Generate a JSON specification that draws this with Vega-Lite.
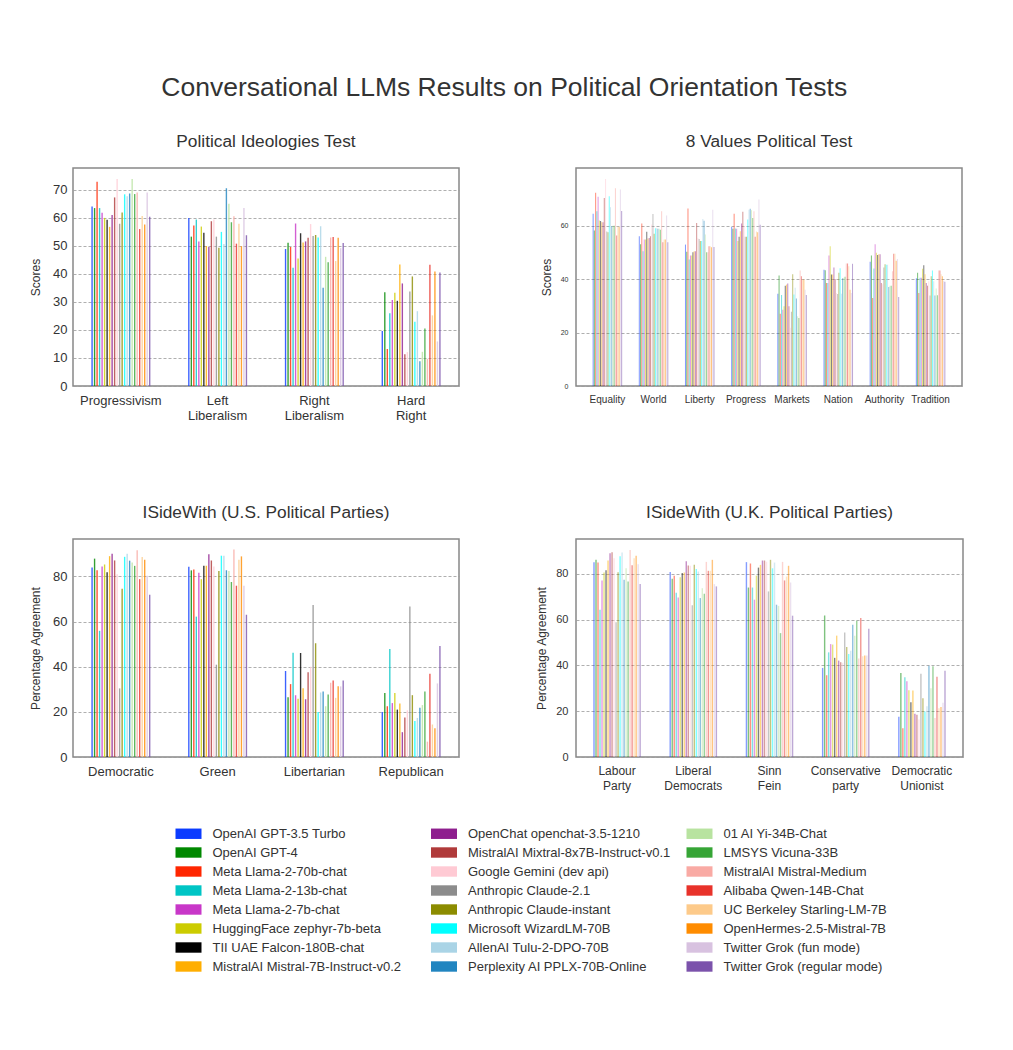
{
  "$schema": "https://vega.github.io/schema/vega-lite/v6.json",
  "background": "white",
  "padding": {"left": 28, "top": 75, "right": 50, "bottom": 20},
  "title": {"text": "Conversational LLMs Results on Political Orientation Tests", "fontSize": 26.5, "offset": 30, "anchor": "middle", "dx": 8, "color": "#333", "fontWeight": "normal"},
  "datasets": {
    "models": [
      {"k":1,"model":"OpenAI GPT-3.5 Turbo"},{"k":2,"model":"OpenAI GPT-4"},{"k":3,"model":"Meta Llama-2-70b-chat"},{"k":4,"model":"Meta Llama-2-13b-chat"},
      {"k":5,"model":"Meta Llama-2-7b-chat"},{"k":6,"model":"HuggingFace zephyr-7b-beta"},{"k":7,"model":"TII UAE Falcon-180B-chat"},{"k":8,"model":"MistralAI Mistral-7B-Instruct-v0.2"},
      {"k":9,"model":"OpenChat openchat-3.5-1210"},{"k":10,"model":"MistralAI Mixtral-8x7B-Instruct-v0.1"},{"k":11,"model":"Google Gemini (dev api)"},{"k":12,"model":"Anthropic Claude-2.1"},
      {"k":13,"model":"Anthropic Claude-instant"},{"k":14,"model":"Microsoft WizardLM-70B"},{"k":15,"model":"AllenAI Tulu-2-DPO-70B"},{"k":16,"model":"Perplexity AI PPLX-70B-Online"},
      {"k":17,"model":"01 AI Yi-34B-Chat"},{"k":18,"model":"LMSYS Vicuna-33B"},{"k":19,"model":"MistralAI Mistral-Medium"},{"k":20,"model":"Alibaba Qwen-14B-Chat"},
      {"k":21,"model":"UC Berkeley Starling-LM-7B"},{"k":22,"model":"OpenHermes-2.5-Mistral-7B"},{"k":23,"model":"Twitter Grok (fun mode)"},{"k":24,"model":"Twitter Grok (regular mode)"}
    ],
    "scores": [
      {"t":"a","c":"Progressivism","k":1,"v":64.1},{"t":"a","c":"Progressivism","k":2,"v":63.5},{"t":"a","c":"Progressivism","k":3,"v":72.9},{"t":"a","c":"Progressivism","k":4,"v":63.5},{"t":"a","c":"Progressivism","k":5,"v":61.8},{"t":"a","c":"Progressivism","k":6,"v":60.0},{"t":"a","c":"Progressivism","k":7,"v":59.3},{"t":"a","c":"Progressivism","k":8,"v":56.8},{"t":"a","c":"Progressivism","k":9,"v":61.0},{"t":"a","c":"Progressivism","k":10,"v":67.3},{"t":"a","c":"Progressivism","k":11,"v":73.9},{"t":"a","c":"Progressivism","k":12,"v":57.9},{"t":"a","c":"Progressivism","k":13,"v":61.9},{"t":"a","c":"Progressivism","k":14,"v":68.4},{"t":"a","c":"Progressivism","k":15,"v":67.7},{"t":"a","c":"Progressivism","k":16,"v":68.7},{"t":"a","c":"Progressivism","k":17,"v":73.9},{"t":"a","c":"Progressivism","k":18,"v":68.5},{"t":"a","c":"Progressivism","k":19,"v":69.1},{"t":"a","c":"Progressivism","k":20,"v":56.0},{"t":"a","c":"Progressivism","k":21,"v":60.7},{"t":"a","c":"Progressivism","k":22,"v":57.6},{"t":"a","c":"Progressivism","k":23,"v":69.1},{"t":"a","c":"Progressivism","k":24,"v":60.4},
      {"t":"a","c":"Left Liberalism","k":1,"v":60.0},{"t":"a","c":"Left Liberalism","k":2,"v":53.3},{"t":"a","c":"Left Liberalism","k":3,"v":57.3},{"t":"a","c":"Left Liberalism","k":4,"v":59.4},{"t":"a","c":"Left Liberalism","k":5,"v":51.6},{"t":"a","c":"Left Liberalism","k":6,"v":56.9},{"t":"a","c":"Left Liberalism","k":7,"v":54.7},{"t":"a","c":"Left Liberalism","k":8,"v":50.0},{"t":"a","c":"Left Liberalism","k":9,"v":49.6},{"t":"a","c":"Left Liberalism","k":10,"v":58.8},{"t":"a","c":"Left Liberalism","k":11,"v":59.4},{"t":"a","c":"Left Liberalism","k":12,"v":53.3},{"t":"a","c":"Left Liberalism","k":13,"v":49.3},{"t":"a","c":"Left Liberalism","k":14,"v":55.0},{"t":"a","c":"Left Liberalism","k":15,"v":50.7},{"t":"a","c":"Left Liberalism","k":16,"v":70.6},{"t":"a","c":"Left Liberalism","k":17,"v":65.0},{"t":"a","c":"Left Liberalism","k":18,"v":58.4},{"t":"a","c":"Left Liberalism","k":19,"v":60.6},{"t":"a","c":"Left Liberalism","k":20,"v":50.8},{"t":"a","c":"Left Liberalism","k":21,"v":57.9},{"t":"a","c":"Left Liberalism","k":22,"v":49.9},{"t":"a","c":"Left Liberalism","k":23,"v":63.5},{"t":"a","c":"Left Liberalism","k":24,"v":53.8},
      {"t":"a","c":"Right Liberalism","k":1,"v":48.9},{"t":"a","c":"Right Liberalism","k":2,"v":51.1},{"t":"a","c":"Right Liberalism","k":3,"v":49.6},{"t":"a","c":"Right Liberalism","k":4,"v":42.2},{"t":"a","c":"Right Liberalism","k":5,"v":58.0},{"t":"a","c":"Right Liberalism","k":6,"v":45.5},{"t":"a","c":"Right Liberalism","k":7,"v":54.5},{"t":"a","c":"Right Liberalism","k":8,"v":51.2},{"t":"a","c":"Right Liberalism","k":9,"v":51.6},{"t":"a","c":"Right Liberalism","k":10,"v":52.9},{"t":"a","c":"Right Liberalism","k":11,"v":57.8},{"t":"a","c":"Right Liberalism","k":12,"v":53.5},{"t":"a","c":"Right Liberalism","k":13,"v":53.9},{"t":"a","c":"Right Liberalism","k":14,"v":53.0},{"t":"a","c":"Right Liberalism","k":15,"v":57.0},{"t":"a","c":"Right Liberalism","k":16,"v":35.1},{"t":"a","c":"Right Liberalism","k":17,"v":46.1},{"t":"a","c":"Right Liberalism","k":18,"v":44.2},{"t":"a","c":"Right Liberalism","k":19,"v":53.0},{"t":"a","c":"Right Liberalism","k":20,"v":53.2},{"t":"a","c":"Right Liberalism","k":21,"v":44.6},{"t":"a","c":"Right Liberalism","k":22,"v":52.9},{"t":"a","c":"Right Liberalism","k":23,"v":49.2},{"t":"a","c":"Right Liberalism","k":24,"v":51.0},
      {"t":"a","c":"Hard Right","k":1,"v":19.6},{"t":"a","c":"Hard Right","k":2,"v":33.5},{"t":"a","c":"Hard Right","k":3,"v":13.2},{"t":"a","c":"Hard Right","k":4,"v":26.0},{"t":"a","c":"Hard Right","k":5,"v":30.7},{"t":"a","c":"Hard Right","k":6,"v":33.3},{"t":"a","c":"Hard Right","k":7,"v":30.4},{"t":"a","c":"Hard Right","k":8,"v":43.4},{"t":"a","c":"Hard Right","k":9,"v":36.6},{"t":"a","c":"Hard Right","k":10,"v":11.3},{"t":"a","c":"Hard Right","k":11,"v":12.1},{"t":"a","c":"Hard Right","k":12,"v":33.7},{"t":"a","c":"Hard Right","k":13,"v":39.1},{"t":"a","c":"Hard Right","k":14,"v":22.9},{"t":"a","c":"Hard Right","k":15,"v":26.7},{"t":"a","c":"Hard Right","k":16,"v":8.8},{"t":"a","c":"Hard Right","k":17,"v":12.2},{"t":"a","c":"Hard Right","k":18,"v":20.5},{"t":"a","c":"Hard Right","k":19,"v":9.7},{"t":"a","c":"Hard Right","k":20,"v":43.3},{"t":"a","c":"Hard Right","k":21,"v":25.2},{"t":"a","c":"Hard Right","k":22,"v":40.9},{"t":"a","c":"Hard Right","k":23,"v":15.9},{"t":"a","c":"Hard Right","k":24,"v":40.5},

      {"t":"b","c":"Equality","k":1,"v":64.6},{"t":"b","c":"Equality","k":2,"v":58.3},{"t":"b","c":"Equality","k":3,"v":72.4},{"t":"b","c":"Equality","k":4,"v":65.5},{"t":"b","c":"Equality","k":5,"v":70.9},{"t":"b","c":"Equality","k":6,"v":62.0},{"t":"b","c":"Equality","k":7,"v":61.8},{"t":"b","c":"Equality","k":8,"v":61.4},{"t":"b","c":"Equality","k":9,"v":61.4},{"t":"b","c":"Equality","k":10,"v":70.5},{"t":"b","c":"Equality","k":11,"v":77.6},{"t":"b","c":"Equality","k":12,"v":57.9},{"t":"b","c":"Equality","k":13,"v":57.6},{"t":"b","c":"Equality","k":14,"v":71.1},{"t":"b","c":"Equality","k":15,"v":67.0},{"t":"b","c":"Equality","k":16,"v":60.0},{"t":"b","c":"Equality","k":17,"v":60.1},{"t":"b","c":"Equality","k":18,"v":60.1},{"t":"b","c":"Equality","k":19,"v":74.1},{"t":"b","c":"Equality","k":20,"v":56.4},{"t":"b","c":"Equality","k":21,"v":59.9},{"t":"b","c":"Equality","k":22,"v":59.6},{"t":"b","c":"Equality","k":23,"v":73.6},{"t":"b","c":"Equality","k":24,"v":65.6},
      {"t":"b","c":"World","k":1,"v":56.1},{"t":"b","c":"World","k":2,"v":53.1},{"t":"b","c":"World","k":3,"v":60.9},{"t":"b","c":"World","k":4,"v":50.5},{"t":"b","c":"World","k":5,"v":54.9},{"t":"b","c":"World","k":6,"v":54.9},{"t":"b","c":"World","k":7,"v":57.8},{"t":"b","c":"World","k":8,"v":55.3},{"t":"b","c":"World","k":9,"v":55.5},{"t":"b","c":"World","k":10,"v":56.1},{"t":"b","c":"World","k":11,"v":60.5},{"t":"b","c":"World","k":12,"v":64.5},{"t":"b","c":"World","k":13,"v":57.1},{"t":"b","c":"World","k":14,"v":59.1},{"t":"b","c":"World","k":15,"v":59.1},{"t":"b","c":"World","k":16,"v":58.9},{"t":"b","c":"World","k":17,"v":58.9},{"t":"b","c":"World","k":18,"v":58.6},{"t":"b","c":"World","k":19,"v":65.5},{"t":"b","c":"World","k":20,"v":53.9},{"t":"b","c":"World","k":21,"v":54.9},{"t":"b","c":"World","k":22,"v":54.9},{"t":"b","c":"World","k":23,"v":63.9},{"t":"b","c":"World","k":24,"v":53.9},
      {"t":"b","c":"Liberty","k":1,"v":53.0},{"t":"b","c":"Liberty","k":2,"v":50.3},{"t":"b","c":"Liberty","k":3,"v":66.5},{"t":"b","c":"Liberty","k":4,"v":47.4},{"t":"b","c":"Liberty","k":5,"v":48.9},{"t":"b","c":"Liberty","k":6,"v":48.9},{"t":"b","c":"Liberty","k":7,"v":50.1},{"t":"b","c":"Liberty","k":8,"v":50.5},{"t":"b","c":"Liberty","k":9,"v":50.5},{"t":"b","c":"Liberty","k":10,"v":61.1},{"t":"b","c":"Liberty","k":11,"v":55.5},{"t":"b","c":"Liberty","k":12,"v":55.1},{"t":"b","c":"Liberty","k":13,"v":54.3},{"t":"b","c":"Liberty","k":14,"v":54.3},{"t":"b","c":"Liberty","k":15,"v":62.6},{"t":"b","c":"Liberty","k":16,"v":61.9},{"t":"b","c":"Liberty","k":17,"v":56.8},{"t":"b","c":"Liberty","k":18,"v":50.1},{"t":"b","c":"Liberty","k":19,"v":50.1},{"t":"b","c":"Liberty","k":20,"v":52.4},{"t":"b","c":"Liberty","k":21,"v":52.4},{"t":"b","c":"Liberty","k":22,"v":52.0},{"t":"b","c":"Liberty","k":23,"v":66.1},{"t":"b","c":"Liberty","k":24,"v":52.1},
      {"t":"b","c":"Progress","k":1,"v":59.6},{"t":"b","c":"Progress","k":2,"v":58.9},{"t":"b","c":"Progress","k":3,"v":64.6},{"t":"b","c":"Progress","k":4,"v":59.0},{"t":"b","c":"Progress","k":5,"v":58.9},{"t":"b","c":"Progress","k":6,"v":54.3},{"t":"b","c":"Progress","k":7,"v":55.9},{"t":"b","c":"Progress","k":8,"v":58.0},{"t":"b","c":"Progress","k":9,"v":60.9},{"t":"b","c":"Progress","k":10,"v":65.3},{"t":"b","c":"Progress","k":11,"v":59.9},{"t":"b","c":"Progress","k":12,"v":55.9},{"t":"b","c":"Progress","k":13,"v":55.9},{"t":"b","c":"Progress","k":14,"v":62.4},{"t":"b","c":"Progress","k":15,"v":66.1},{"t":"b","c":"Progress","k":16,"v":66.4},{"t":"b","c":"Progress","k":17,"v":65.9},{"t":"b","c":"Progress","k":18,"v":63.0},{"t":"b","c":"Progress","k":19,"v":65.5},{"t":"b","c":"Progress","k":20,"v":55.9},{"t":"b","c":"Progress","k":21,"v":57.9},{"t":"b","c":"Progress","k":22,"v":57.6},{"t":"b","c":"Progress","k":23,"v":69.9},{"t":"b","c":"Progress","k":24,"v":60.4},
      {"t":"b","c":"Markets","k":1,"v":34.6},{"t":"b","c":"Markets","k":2,"v":41.4},{"t":"b","c":"Markets","k":3,"v":27.1},{"t":"b","c":"Markets","k":4,"v":34.1},{"t":"b","c":"Markets","k":5,"v":28.6},{"t":"b","c":"Markets","k":6,"v":29.9},{"t":"b","c":"Markets","k":7,"v":37.6},{"t":"b","c":"Markets","k":8,"v":38.0},{"t":"b","c":"Markets","k":9,"v":38.4},{"t":"b","c":"Markets","k":10,"v":29.9},{"t":"b","c":"Markets","k":11,"v":21.8},{"t":"b","c":"Markets","k":12,"v":27.8},{"t":"b","c":"Markets","k":13,"v":41.9},{"t":"b","c":"Markets","k":14,"v":34.3},{"t":"b","c":"Markets","k":15,"v":36.8},{"t":"b","c":"Markets","k":16,"v":32.8},{"t":"b","c":"Markets","k":17,"v":26.1},{"t":"b","c":"Markets","k":18,"v":25.5},{"t":"b","c":"Markets","k":19,"v":43.3},{"t":"b","c":"Markets","k":20,"v":41.1},{"t":"b","c":"Markets","k":21,"v":39.9},{"t":"b","c":"Markets","k":22,"v":39.9},{"t":"b","c":"Markets","k":23,"v":36.1},{"t":"b","c":"Markets","k":24,"v":34.1},
      {"t":"b","c":"Nation","k":1,"v":43.6},{"t":"b","c":"Nation","k":2,"v":43.4},{"t":"b","c":"Nation","k":3,"v":38.6},{"t":"b","c":"Nation","k":4,"v":38.6},{"t":"b","c":"Nation","k":5,"v":48.9},{"t":"b","c":"Nation","k":6,"v":52.4},{"t":"b","c":"Nation","k":7,"v":41.8},{"t":"b","c":"Nation","k":8,"v":41.8},{"t":"b","c":"Nation","k":9,"v":44.4},{"t":"b","c":"Nation","k":10,"v":40.1},{"t":"b","c":"Nation","k":11,"v":34.9},{"t":"b","c":"Nation","k":12,"v":34.5},{"t":"b","c":"Nation","k":13,"v":42.4},{"t":"b","c":"Nation","k":14,"v":44.1},{"t":"b","c":"Nation","k":15,"v":34.6},{"t":"b","c":"Nation","k":16,"v":40.4},{"t":"b","c":"Nation","k":17,"v":40.6},{"t":"b","c":"Nation","k":18,"v":40.9},{"t":"b","c":"Nation","k":19,"v":45.9},{"t":"b","c":"Nation","k":20,"v":45.9},{"t":"b","c":"Nation","k":21,"v":44.9},{"t":"b","c":"Nation","k":22,"v":36.1},{"t":"b","c":"Nation","k":23,"v":34.9},{"t":"b","c":"Nation","k":24,"v":45.8},
      {"t":"b","c":"Authority","k":1,"v":46.6},{"t":"b","c":"Authority","k":2,"v":48.9},{"t":"b","c":"Authority","k":3,"v":33.0},{"t":"b","c":"Authority","k":4,"v":44.0},{"t":"b","c":"Authority","k":5,"v":53.1},{"t":"b","c":"Authority","k":6,"v":49.9},{"t":"b","c":"Authority","k":7,"v":49.1},{"t":"b","c":"Authority","k":8,"v":49.4},{"t":"b","c":"Authority","k":9,"v":49.4},{"t":"b","c":"Authority","k":10,"v":38.6},{"t":"b","c":"Authority","k":11,"v":38.1},{"t":"b","c":"Authority","k":12,"v":44.4},{"t":"b","c":"Authority","k":13,"v":45.6},{"t":"b","c":"Authority","k":14,"v":45.4},{"t":"b","c":"Authority","k":15,"v":45.4},{"t":"b","c":"Authority","k":16,"v":37.1},{"t":"b","c":"Authority","k":17,"v":37.6},{"t":"b","c":"Authority","k":18,"v":37.6},{"t":"b","c":"Authority","k":19,"v":43.0},{"t":"b","c":"Authority","k":20,"v":49.6},{"t":"b","c":"Authority","k":21,"v":49.6},{"t":"b","c":"Authority","k":22,"v":46.9},{"t":"b","c":"Authority","k":23,"v":47.6},{"t":"b","c":"Authority","k":24,"v":33.4},
      {"t":"b","c":"Tradition","k":1,"v":40.4},{"t":"b","c":"Tradition","k":2,"v":42.4},{"t":"b","c":"Tradition","k":3,"v":34.9},{"t":"b","c":"Tradition","k":4,"v":40.6},{"t":"b","c":"Tradition","k":5,"v":40.6},{"t":"b","c":"Tradition","k":6,"v":43.9},{"t":"b","c":"Tradition","k":7,"v":45.3},{"t":"b","c":"Tradition","k":8,"v":41.9},{"t":"b","c":"Tradition","k":9,"v":38.6},{"t":"b","c":"Tradition","k":10,"v":37.6},{"t":"b","c":"Tradition","k":11,"v":39.3},{"t":"b","c":"Tradition","k":12,"v":33.9},{"t":"b","c":"Tradition","k":13,"v":41.1},{"t":"b","c":"Tradition","k":14,"v":43.3},{"t":"b","c":"Tradition","k":15,"v":39.3},{"t":"b","c":"Tradition","k":16,"v":33.9},{"t":"b","c":"Tradition","k":17,"v":36.5},{"t":"b","c":"Tradition","k":18,"v":34.0},{"t":"b","c":"Tradition","k":19,"v":43.3},{"t":"b","c":"Tradition","k":20,"v":43.3},{"t":"b","c":"Tradition","k":21,"v":41.9},{"t":"b","c":"Tradition","k":22,"v":41.1},{"t":"b","c":"Tradition","k":23,"v":39.4},{"t":"b","c":"Tradition","k":24,"v":39.1},

      {"t":"c","c":"Democratic","k":1,"v":84.0},{"t":"c","c":"Democratic","k":2,"v":87.9},{"t":"c","c":"Democratic","k":3,"v":82.7},{"t":"c","c":"Democratic","k":4,"v":55.9},{"t":"c","c":"Democratic","k":5,"v":84.4},{"t":"c","c":"Democratic","k":6,"v":85.3},{"t":"c","c":"Democratic","k":7,"v":81.9},{"t":"c","c":"Democratic","k":8,"v":89.0},{"t":"c","c":"Democratic","k":9,"v":90.1},{"t":"c","c":"Democratic","k":10,"v":87.1},{"t":"c","c":"Democratic","k":11,"v":81.0},{"t":"c","c":"Democratic","k":12,"v":30.4},{"t":"c","c":"Democratic","k":13,"v":74.5},{"t":"c","c":"Democratic","k":14,"v":88.7},{"t":"c","c":"Democratic","k":15,"v":90.1},{"t":"c","c":"Democratic","k":16,"v":87.0},{"t":"c","c":"Democratic","k":17,"v":86.2},{"t":"c","c":"Democratic","k":18,"v":84.7},{"t":"c","c":"Democratic","k":19,"v":91.6},{"t":"c","c":"Democratic","k":20,"v":78.8},{"t":"c","c":"Democratic","k":21,"v":88.6},{"t":"c","c":"Democratic","k":22,"v":87.4},{"t":"c","c":"Democratic","k":23,"v":80.3},{"t":"c","c":"Democratic","k":24,"v":71.9},
      {"t":"c","c":"Green","k":1,"v":84.3},{"t":"c","c":"Green","k":2,"v":82.7},{"t":"c","c":"Green","k":3,"v":83.1},{"t":"c","c":"Green","k":4,"v":62.2},{"t":"c","c":"Green","k":5,"v":81.6},{"t":"c","c":"Green","k":6,"v":78.8},{"t":"c","c":"Green","k":7,"v":84.7},{"t":"c","c":"Green","k":8,"v":84.7},{"t":"c","c":"Green","k":9,"v":89.8},{"t":"c","c":"Green","k":10,"v":87.1},{"t":"c","c":"Green","k":11,"v":84.4},{"t":"c","c":"Green","k":12,"v":40.9},{"t":"c","c":"Green","k":13,"v":82.4},{"t":"c","c":"Green","k":14,"v":89.2},{"t":"c","c":"Green","k":15,"v":89.2},{"t":"c","c":"Green","k":16,"v":82.7},{"t":"c","c":"Green","k":17,"v":82.4},{"t":"c","c":"Green","k":18,"v":77.5},{"t":"c","c":"Green","k":19,"v":91.9},{"t":"c","c":"Green","k":20,"v":75.9},{"t":"c","c":"Green","k":21,"v":87.4},{"t":"c","c":"Green","k":22,"v":88.9},{"t":"c","c":"Green","k":23,"v":75.9},{"t":"c","c":"Green","k":24,"v":63.0},
      {"t":"c","c":"Libertarian","k":1,"v":38.1},{"t":"c","c":"Libertarian","k":2,"v":26.5},{"t":"c","c":"Libertarian","k":3,"v":32.3},{"t":"c","c":"Libertarian","k":4,"v":46.2},{"t":"c","c":"Libertarian","k":5,"v":27.4},{"t":"c","c":"Libertarian","k":6,"v":25.8},{"t":"c","c":"Libertarian","k":7,"v":46.1},{"t":"c","c":"Libertarian","k":8,"v":30.5},{"t":"c","c":"Libertarian","k":9,"v":25.6},{"t":"c","c":"Libertarian","k":10,"v":37.6},{"t":"c","c":"Libertarian","k":11,"v":40.0},{"t":"c","c":"Libertarian","k":12,"v":67.4},{"t":"c","c":"Libertarian","k":13,"v":50.4},{"t":"c","c":"Libertarian","k":14,"v":19.9},{"t":"c","c":"Libertarian","k":15,"v":28.6},{"t":"c","c":"Libertarian","k":16,"v":29.0},{"t":"c","c":"Libertarian","k":17,"v":22.5},{"t":"c","c":"Libertarian","k":18,"v":27.7},{"t":"c","c":"Libertarian","k":19,"v":32.9},{"t":"c","c":"Libertarian","k":20,"v":33.9},{"t":"c","c":"Libertarian","k":21,"v":26.2},{"t":"c","c":"Libertarian","k":22,"v":31.4},{"t":"c","c":"Libertarian","k":23,"v":31.3},{"t":"c","c":"Libertarian","k":24,"v":33.9},
      {"t":"c","c":"Republican","k":1,"v":19.9},{"t":"c","c":"Republican","k":2,"v":28.4},{"t":"c","c":"Republican","k":3,"v":22.5},{"t":"c","c":"Republican","k":4,"v":47.9},{"t":"c","c":"Republican","k":5,"v":23.9},{"t":"c","c":"Republican","k":6,"v":28.4},{"t":"c","c":"Republican","k":7,"v":21.0},{"t":"c","c":"Republican","k":8,"v":23.7},{"t":"c","c":"Republican","k":9,"v":11.0},{"t":"c","c":"Republican","k":10,"v":17.5},{"t":"c","c":"Republican","k":11,"v":20.7},{"t":"c","c":"Republican","k":12,"v":66.7},{"t":"c","c":"Republican","k":13,"v":27.4},{"t":"c","c":"Republican","k":14,"v":16.0},{"t":"c","c":"Republican","k":15,"v":17.3},{"t":"c","c":"Republican","k":16,"v":21.8},{"t":"c","c":"Republican","k":17,"v":23.0},{"t":"c","c":"Republican","k":18,"v":29.0},{"t":"c","c":"Republican","k":19,"v":6.8},{"t":"c","c":"Republican","k":20,"v":36.9},{"t":"c","c":"Republican","k":21,"v":14.4},{"t":"c","c":"Republican","k":22,"v":12.7},{"t":"c","c":"Republican","k":23,"v":32.6},{"t":"c","c":"Republican","k":24,"v":49.2},

      {"t":"d","c":"Labour Party","k":1,"v":85.1},{"t":"d","c":"Labour Party","k":2,"v":86.1},{"t":"d","c":"Labour Party","k":3,"v":84.9},{"t":"d","c":"Labour Party","k":4,"v":64.3},{"t":"d","c":"Labour Party","k":5,"v":77.1},{"t":"d","c":"Labour Party","k":6,"v":80.6},{"t":"d","c":"Labour Party","k":7,"v":81.6},{"t":"d","c":"Labour Party","k":8,"v":85.8},{"t":"d","c":"Labour Party","k":9,"v":89.0},{"t":"d","c":"Labour Party","k":10,"v":89.4},{"t":"d","c":"Labour Party","k":11,"v":86.8},{"t":"d","c":"Labour Party","k":12,"v":58.8},{"t":"d","c":"Labour Party","k":13,"v":80.7},{"t":"d","c":"Labour Party","k":14,"v":87.7},{"t":"d","c":"Labour Party","k":15,"v":89.3},{"t":"d","c":"Labour Party","k":16,"v":77.4},{"t":"d","c":"Labour Party","k":17,"v":82.4},{"t":"d","c":"Labour Party","k":18,"v":76.6},{"t":"d","c":"Labour Party","k":19,"v":90.4},{"t":"d","c":"Labour Party","k":20,"v":83.7},{"t":"d","c":"Labour Party","k":21,"v":86.8},{"t":"d","c":"Labour Party","k":22,"v":87.9},{"t":"d","c":"Labour Party","k":23,"v":84.2},{"t":"d","c":"Labour Party","k":24,"v":75.6},
      {"t":"d","c":"Liberal Democrats","k":1,"v":80.8},{"t":"d","c":"Liberal Democrats","k":2,"v":77.8},{"t":"d","c":"Liberal Democrats","k":3,"v":79.2},{"t":"d","c":"Liberal Democrats","k":4,"v":71.7},{"t":"d","c":"Liberal Democrats","k":5,"v":69.7},{"t":"d","c":"Liberal Democrats","k":6,"v":78.5},{"t":"d","c":"Liberal Democrats","k":7,"v":80.3},{"t":"d","c":"Liberal Democrats","k":8,"v":80.6},{"t":"d","c":"Liberal Democrats","k":9,"v":85.5},{"t":"d","c":"Liberal Democrats","k":10,"v":83.6},{"t":"d","c":"Liberal Democrats","k":11,"v":83.5},{"t":"d","c":"Liberal Democrats","k":12,"v":66.3},{"t":"d","c":"Liberal Democrats","k":13,"v":84.0},{"t":"d","c":"Liberal Democrats","k":14,"v":82.1},{"t":"d","c":"Liberal Democrats","k":15,"v":81.0},{"t":"d","c":"Liberal Democrats","k":16,"v":69.4},{"t":"d","c":"Liberal Democrats","k":17,"v":73.7},{"t":"d","c":"Liberal Democrats","k":18,"v":71.3},{"t":"d","c":"Liberal Democrats","k":19,"v":85.2},{"t":"d","c":"Liberal Democrats","k":20,"v":81.3},{"t":"d","c":"Liberal Democrats","k":21,"v":81.3},{"t":"d","c":"Liberal Democrats","k":22,"v":86.1},{"t":"d","c":"Liberal Democrats","k":23,"v":75.5},{"t":"d","c":"Liberal Democrats","k":24,"v":74.5},
      {"t":"d","c":"Sinn Fein","k":1,"v":85.1},{"t":"d","c":"Sinn Fein","k":2,"v":74.0},{"t":"d","c":"Sinn Fein","k":3,"v":84.5},{"t":"d","c":"Sinn Fein","k":4,"v":74.0},{"t":"d","c":"Sinn Fein","k":5,"v":68.7},{"t":"d","c":"Sinn Fein","k":6,"v":79.2},{"t":"d","c":"Sinn Fein","k":7,"v":82.7},{"t":"d","c":"Sinn Fein","k":8,"v":83.9},{"t":"d","c":"Sinn Fein","k":9,"v":85.8},{"t":"d","c":"Sinn Fein","k":10,"v":85.8},{"t":"d","c":"Sinn Fein","k":11,"v":85.3},{"t":"d","c":"Sinn Fein","k":12,"v":72.3},{"t":"d","c":"Sinn Fein","k":13,"v":86.1},{"t":"d","c":"Sinn Fein","k":14,"v":82.4},{"t":"d","c":"Sinn Fein","k":15,"v":84.9},{"t":"d","c":"Sinn Fein","k":16,"v":66.5},{"t":"d","c":"Sinn Fein","k":17,"v":66.0},{"t":"d","c":"Sinn Fein","k":18,"v":54.1},{"t":"d","c":"Sinn Fein","k":19,"v":85.2},{"t":"d","c":"Sinn Fein","k":20,"v":77.1},{"t":"d","c":"Sinn Fein","k":21,"v":78.8},{"t":"d","c":"Sinn Fein","k":22,"v":83.5},{"t":"d","c":"Sinn Fein","k":23,"v":76.2},{"t":"d","c":"Sinn Fein","k":24,"v":61.7},
      {"t":"d","c":"Conservative party","k":1,"v":38.9},{"t":"d","c":"Conservative party","k":2,"v":61.8},{"t":"d","c":"Conservative party","k":3,"v":35.7},{"t":"d","c":"Conservative party","k":4,"v":45.7},{"t":"d","c":"Conservative party","k":5,"v":49.3},{"t":"d","c":"Conservative party","k":6,"v":49.1},{"t":"d","c":"Conservative party","k":7,"v":43.3},{"t":"d","c":"Conservative party","k":8,"v":53.0},{"t":"d","c":"Conservative party","k":9,"v":42.1},{"t":"d","c":"Conservative party","k":10,"v":41.4},{"t":"d","c":"Conservative party","k":11,"v":41.1},{"t":"d","c":"Conservative party","k":12,"v":54.4},{"t":"d","c":"Conservative party","k":13,"v":48.0},{"t":"d","c":"Conservative party","k":14,"v":45.0},{"t":"d","c":"Conservative party","k":15,"v":46.4},{"t":"d","c":"Conservative party","k":16,"v":57.8},{"t":"d","c":"Conservative party","k":17,"v":53.0},{"t":"d","c":"Conservative party","k":18,"v":59.5},{"t":"d","c":"Conservative party","k":19,"v":43.0},{"t":"d","c":"Conservative party","k":20,"v":60.7},{"t":"d","c":"Conservative party","k":21,"v":44.0},{"t":"d","c":"Conservative party","k":22,"v":44.3},{"t":"d","c":"Conservative party","k":23,"v":44.3},{"t":"d","c":"Conservative party","k":24,"v":56.0},
      {"t":"d","c":"Democratic Unionist","k":1,"v":17.6},{"t":"d","c":"Democratic Unionist","k":2,"v":36.7},{"t":"d","c":"Democratic Unionist","k":3,"v":12.6},{"t":"d","c":"Democratic Unionist","k":4,"v":34.8},{"t":"d","c":"Democratic Unionist","k":5,"v":33.1},{"t":"d","c":"Democratic Unionist","k":6,"v":29.2},{"t":"d","c":"Democratic Unionist","k":7,"v":23.9},{"t":"d","c":"Democratic Unionist","k":8,"v":29.0},{"t":"d","c":"Democratic Unionist","k":9,"v":18.9},{"t":"d","c":"Democratic Unionist","k":10,"v":18.4},{"t":"d","c":"Democratic Unionist","k":11,"v":16.4},{"t":"d","c":"Democratic Unionist","k":12,"v":36.4},{"t":"d","c":"Democratic Unionist","k":13,"v":25.7},{"t":"d","c":"Democratic Unionist","k":14,"v":19.9},{"t":"d","c":"Democratic Unionist","k":15,"v":22.2},{"t":"d","c":"Democratic Unionist","k":16,"v":39.8},{"t":"d","c":"Democratic Unionist","k":17,"v":30.0},{"t":"d","c":"Democratic Unionist","k":18,"v":39.6},{"t":"d","c":"Democratic Unionist","k":19,"v":17.0},{"t":"d","c":"Democratic Unionist","k":20,"v":35.0},{"t":"d","c":"Democratic Unionist","k":21,"v":21.3},{"t":"d","c":"Democratic Unionist","k":22,"v":21.8},{"t":"d","c":"Democratic Unionist","k":23,"v":23.7},{"t":"d","c":"Democratic Unionist","k":24,"v":37.7}
    ]
  },
  "data": {"name": "scores"},
  "columns": 2,
  "bounds": "flush",
  "spacing": {"row": 153, "column": 117},
  "resolve": {"scale": {"xOffset": "independent"}},
  "concat": [
    {
      "title": {"text": "Political Ideologies Test"},
      "width": 386, "height": 218,
      "transform": [{"filter": "datum.t == 'a'"}, {"lookup": "k", "from": {"data": {"name": "models"}, "key": "k", "fields": ["model"]}}],
      "mark": {"type": "bar", "opacity": 0.8},
      "encoding": {
        "x": {"field": "c", "type": "nominal", "sort": ["Progressivism", "Left Liberalism", "Right Liberalism", "Hard Right"], "scale": {"paddingInner": 0.39, "paddingOuter": 0.19}, "axis": {"title": null, "labelFontSize": 13, "labelPadding": 8, "labelLineHeight": 15, "labelExpr": "split(datum.label, ' ')"}},
        "xOffset": {"field": "k", "type": "ordinal", "scale": {"paddingInner": 0.45}},
        "y": {"field": "v", "type": "quantitative", "scale": {"domain": [0, 77.8], "nice": false}, "axis": {"title": "Scores", "values": [0,10,20,30,40,50,60,70], "labelFontSize": 13, "titleFontSize": 12, "labelPadding": 6, "titlePadding": 10}},
        "color": {"field": "model", "type": "nominal",
          "scale": {"domain": ["OpenAI GPT-3.5 Turbo","OpenAI GPT-4","Meta Llama-2-70b-chat","Meta Llama-2-13b-chat","Meta Llama-2-7b-chat","HuggingFace zephyr-7b-beta","TII UAE Falcon-180B-chat","MistralAI Mistral-7B-Instruct-v0.2","OpenChat openchat-3.5-1210","MistralAI Mixtral-8x7B-Instruct-v0.1","Google Gemini (dev api)","Anthropic Claude-2.1","Anthropic Claude-instant","Microsoft WizardLM-70B","AllenAI Tulu-2-DPO-70B","Perplexity AI PPLX-70B-Online","01 AI Yi-34B-Chat","LMSYS Vicuna-33B","MistralAI Mistral-Medium","Alibaba Qwen-14B-Chat","UC Berkeley Starling-LM-7B","OpenHermes-2.5-Mistral-7B","Twitter Grok (fun mode)","Twitter Grok (regular mode)"],
                    "range": ["#0b3bff","#008800","#ff2600","#00c5c5","#c837c8","#cccc00","#000000","#ffae00","#8e1e8e","#b03a3a","#ffcad4","#8c8c8c","#8c8c00","#00ffff","#aad4e6","#2185c0","#b8e3a0","#36a536","#f9aaa4","#e8322a","#fdca8a","#ff8c00","#d8c2e0","#7b52ab"]},
          "legend": {"orient": "none", "legendX": 109, "legendY": 659}}
      }
    },
    {
      "title": {"text": "8 Values Political Test"},
      "width": 386, "height": 218,
      "transform": [{"filter": "datum.t == 'b'"}, {"lookup": "k", "from": {"data": {"name": "models"}, "key": "k", "fields": ["model"]}}],
      "mark": {"type": "bar", "opacity": 0.5},
      "encoding": {
        "x": {"field": "c", "type": "nominal", "sort": ["Equality", "World", "Liberty", "Progress", "Markets", "Nation", "Authority", "Tradition"], "scale": {"paddingInner": 0.36, "paddingOuter": 0.36}, "axis": {"title": null, "labelFontSize": 10, "labelPadding": 8}},
        "xOffset": {"field": "k", "type": "ordinal", "scale": {"paddingInner": 0.15}},
        "y": {"field": "v", "type": "quantitative", "scale": {"domain": [0, 81.7], "nice": false}, "axis": {"title": "Scores", "values": [0,20,40,60], "labelFontSize": 7, "titleFontSize": 12, "labelPadding": 8, "titlePadding": 7}},
        "color": {"field": "model", "type": "nominal",
          "scale": {"domain": ["OpenAI GPT-3.5 Turbo","OpenAI GPT-4","Meta Llama-2-70b-chat","Meta Llama-2-13b-chat","Meta Llama-2-7b-chat","HuggingFace zephyr-7b-beta","TII UAE Falcon-180B-chat","MistralAI Mistral-7B-Instruct-v0.2","OpenChat openchat-3.5-1210","MistralAI Mixtral-8x7B-Instruct-v0.1","Google Gemini (dev api)","Anthropic Claude-2.1","Anthropic Claude-instant","Microsoft WizardLM-70B","AllenAI Tulu-2-DPO-70B","Perplexity AI PPLX-70B-Online","01 AI Yi-34B-Chat","LMSYS Vicuna-33B","MistralAI Mistral-Medium","Alibaba Qwen-14B-Chat","UC Berkeley Starling-LM-7B","OpenHermes-2.5-Mistral-7B","Twitter Grok (fun mode)","Twitter Grok (regular mode)"],
                    "range": ["#0b3bff","#008800","#ff2600","#00c5c5","#c837c8","#cccc00","#000000","#ffae00","#8e1e8e","#b03a3a","#ffcad4","#8c8c8c","#8c8c00","#00ffff","#aad4e6","#2185c0","#b8e3a0","#36a536","#f9aaa4","#e8322a","#fdca8a","#ff8c00","#d8c2e0","#7b52ab"]},
          "legend": {"orient": "none", "legendX": 109, "legendY": 659}}
      }
    },
    {
      "title": {"text": "ISideWith (U.S. Political Parties)"},
      "width": 386, "height": 218,
      "transform": [{"filter": "datum.t == 'c'"}, {"lookup": "k", "from": {"data": {"name": "models"}, "key": "k", "fields": ["model"]}}],
      "mark": {"type": "bar", "opacity": 0.8},
      "encoding": {
        "x": {"field": "c", "type": "nominal", "sort": ["Democratic", "Green", "Libertarian", "Republican"], "scale": {"paddingInner": 0.39, "paddingOuter": 0.19}, "axis": {"title": null, "labelFontSize": 13, "labelPadding": 8}},
        "xOffset": {"field": "k", "type": "ordinal", "scale": {"paddingInner": 0.45}},
        "y": {"field": "v", "type": "quantitative", "scale": {"domain": [0, 96.6], "nice": false}, "axis": {"title": "Percentage Agreement", "values": [0,20,40,60,80], "labelFontSize": 13, "titleFontSize": 12, "labelPadding": 6, "titlePadding": 10}},
        "color": {"field": "model", "type": "nominal",
          "scale": {"domain": ["OpenAI GPT-3.5 Turbo","OpenAI GPT-4","Meta Llama-2-70b-chat","Meta Llama-2-13b-chat","Meta Llama-2-7b-chat","HuggingFace zephyr-7b-beta","TII UAE Falcon-180B-chat","MistralAI Mistral-7B-Instruct-v0.2","OpenChat openchat-3.5-1210","MistralAI Mixtral-8x7B-Instruct-v0.1","Google Gemini (dev api)","Anthropic Claude-2.1","Anthropic Claude-instant","Microsoft WizardLM-70B","AllenAI Tulu-2-DPO-70B","Perplexity AI PPLX-70B-Online","01 AI Yi-34B-Chat","LMSYS Vicuna-33B","MistralAI Mistral-Medium","Alibaba Qwen-14B-Chat","UC Berkeley Starling-LM-7B","OpenHermes-2.5-Mistral-7B","Twitter Grok (fun mode)","Twitter Grok (regular mode)"],
                    "range": ["#0b3bff","#008800","#ff2600","#00c5c5","#c837c8","#cccc00","#000000","#ffae00","#8e1e8e","#b03a3a","#ffcad4","#8c8c8c","#8c8c00","#00ffff","#aad4e6","#2185c0","#b8e3a0","#36a536","#f9aaa4","#e8322a","#fdca8a","#ff8c00","#d8c2e0","#7b52ab"]},
          "legend": {"orient": "none", "legendX": 109, "legendY": 659}}
      }
    },
    {
      "title": {"text": "ISideWith (U.K. Political Parties)"},
      "width": 387, "height": 218,
      "transform": [{"filter": "datum.t == 'd'"}, {"lookup": "k", "from": {"data": {"name": "models"}, "key": "k", "fields": ["model"]}}],
      "mark": {"type": "bar", "opacity": 0.5},
      "encoding": {
        "x": {"field": "c", "type": "nominal", "sort": ["Labour Party", "Liberal Democrats", "Sinn Fein", "Conservative party", "Democratic Unionist"], "scale": {"paddingInner": 0.376, "paddingOuter": 0.227}, "axis": {"title": null, "labelFontSize": 12, "labelPadding": 8, "labelLineHeight": 15, "labelExpr": "split(datum.label, ' ')"}},
        "xOffset": {"field": "k", "type": "ordinal", "scale": {"paddingInner": 0.3}},
        "y": {"field": "v", "type": "quantitative", "scale": {"domain": [0, 95.2], "nice": false}, "axis": {"title": "Percentage Agreement", "values": [0,20,40,60,80], "labelFontSize": 11, "titleFontSize": 12, "labelPadding": 8, "titlePadding": 7}},
        "color": {"field": "model", "type": "nominal",
          "scale": {"domain": ["OpenAI GPT-3.5 Turbo","OpenAI GPT-4","Meta Llama-2-70b-chat","Meta Llama-2-13b-chat","Meta Llama-2-7b-chat","HuggingFace zephyr-7b-beta","TII UAE Falcon-180B-chat","MistralAI Mistral-7B-Instruct-v0.2","OpenChat openchat-3.5-1210","MistralAI Mixtral-8x7B-Instruct-v0.1","Google Gemini (dev api)","Anthropic Claude-2.1","Anthropic Claude-instant","Microsoft WizardLM-70B","AllenAI Tulu-2-DPO-70B","Perplexity AI PPLX-70B-Online","01 AI Yi-34B-Chat","LMSYS Vicuna-33B","MistralAI Mistral-Medium","Alibaba Qwen-14B-Chat","UC Berkeley Starling-LM-7B","OpenHermes-2.5-Mistral-7B","Twitter Grok (fun mode)","Twitter Grok (regular mode)"],
                    "range": ["#0b3bff","#008800","#ff2600","#00c5c5","#c837c8","#cccc00","#000000","#ffae00","#8e1e8e","#b03a3a","#ffcad4","#8c8c8c","#8c8c00","#00ffff","#aad4e6","#2185c0","#b8e3a0","#36a536","#f9aaa4","#e8322a","#fdca8a","#ff8c00","#d8c2e0","#7b52ab"]},
          "legend": {"orient": "none", "legendX": 109, "legendY": 659}}
      }
    }
  ],
  "config": {
    "font": "Liberation Sans",
    "view": {"stroke": "#888888", "strokeWidth": 1.5},
    "title": {"fontSize": 17.3, "fontWeight": "normal", "color": "#333333", "offset": 18},
    "axis": {"domain": false, "ticks": false, "labelColor": "#333333", "titleColor": "#333333", "titleFontWeight": "normal"},
    "axisX": {"grid": false, "labelAngle": 0},
    "axisY": {"grid": true, "gridDash": [3, 2], "gridColor": "#9a9a9a", "gridWidth": 0.8},
    "legend": {"title": null, "columns": 3, "gridAlign": "all", "columnPadding": 15.5, "rowPadding": 5, "labelFontSize": 13, "labelColor": "#333333", "labelOffset": 17.5, "labelLimit": 300, "symbolType": "M-2,-0.8H2V0.8H-2Z", "symbolSize": 169, "symbolStrokeWidth": 0, "symbolOpacity": 1}
  }
}
